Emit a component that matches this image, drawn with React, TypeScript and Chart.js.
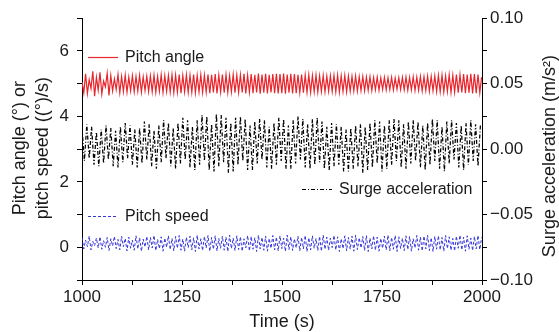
import React, { useEffect, useRef } from 'react';
import { Chart, registerables } from 'chart.js';
Chart.register(...registerables);

// ---- sampling grid (time of each extremum) ----
const T_START = 1000;
const PITCH_DT = 4.5; // s between successive peaks/troughs of pitch signals
const SURGE_DT = 6; // s between successive peaks/troughs of surge acceleration

// ---- axis tick labels ----
const xTickLabels = [1000, 1250, 1500, 1750, 2000];
const leftTickLabels = [0, 2, 4, 6];
const rightTickLabels = [-0.1, -0.05, 0, 0.05, 0.1];

// ---- series (degrees) ----
const pitchAngle = [
  5.05, 4.72, 5.30, 4.70, 5.12, 4.85, 5.38, 4.62, 5.20, 4.80,
  5.35, 4.68, 5.08, 4.90, 5.32, 4.64, 5.25, 4.78, 5.15, 4.82,
  5.28, 4.72, 5.22, 4.76, 5.26, 4.74, 5.20, 4.78, 5.24, 4.75,
  5.22, 4.77, 5.25, 4.74, 5.21, 4.79, 5.23, 4.76, 5.24, 4.75,
  5.26, 4.74, 5.22, 4.77, 5.27, 4.73, 5.24, 4.76, 5.25, 4.74,
  5.27, 4.72, 5.26, 4.74, 5.28, 4.71, 5.25, 4.75, 5.27, 4.73,
  5.26, 4.74, 5.28, 4.72, 5.25, 4.75, 5.27, 4.73, 5.26, 4.74,
  5.28, 4.71, 5.27, 4.73, 5.29, 4.70, 5.26, 4.74, 5.28, 4.72,
  5.27, 4.73, 5.25, 4.75, 5.28, 4.72, 5.26, 4.74, 5.27, 4.73,
  5.30, 4.70, 5.26, 4.74, 5.29, 4.71, 5.27, 4.73, 5.31, 4.69,
  5.28, 4.72, 5.30, 4.70, 5.27, 4.73, 5.29, 4.71, 5.30, 4.70,
  5.29, 4.71, 5.31, 4.69, 5.28, 4.72, 5.30, 4.70, 5.29, 4.71,
  5.27, 4.73, 5.28, 4.72, 5.26, 4.74, 5.27, 4.73, 5.25, 4.75,
  5.26, 4.74, 5.24, 4.76, 5.25, 4.75, 5.23, 4.77, 5.24, 4.76,
  5.25, 4.75, 5.26, 4.74, 5.24, 4.76, 5.25, 4.75, 5.23, 4.77,
  5.22, 4.78, 5.23, 4.77, 5.21, 4.79, 5.22, 4.78, 5.20, 4.80,
  5.21, 4.79, 5.19, 4.81, 5.20, 4.80, 5.18, 4.82, 5.19, 4.81,
  5.18, 4.82, 5.19, 4.81, 5.17, 4.83, 5.18, 4.82, 5.19, 4.81,
  5.20, 4.80, 5.19, 4.81, 5.21, 4.79, 5.20, 4.80, 5.22, 4.78,
  5.21, 4.79, 5.23, 4.77, 5.22, 4.78, 5.24, 4.76, 5.25, 4.75,
  5.26, 4.74, 5.24, 4.76, 5.27, 4.73, 5.26, 4.74, 5.28, 4.72,
  5.27, 4.73, 5.29, 4.71, 5.28, 4.72, 5.30, 4.70, 5.29, 4.71,
  5.28, 4.72, 5.20,
];

// ---- series (degrees / s) ----
const pitchSpeed = [
  0.30, -0.05, 0.22, 0.02, 0.34, -0.08, 0.18, 0.05, 0.28, -0.02,
  0.32, -0.06, 0.20, 0.00, 0.30, -0.10, 0.26, 0.04, 0.33, -0.04,
  0.24, -0.08, 0.34, 0.02, 0.27, -0.11, 0.31, -0.03, 0.22, -0.09,
  0.35, -0.05, 0.29, -0.12, 0.25, 0.01, 0.33, -0.08, 0.30, -0.02,
  0.36, -0.10, 0.24, -0.04, 0.32, -0.12, 0.28, 0.00, 0.35, -0.07,
  0.27, -0.11, 0.33, -0.03, 0.36, -0.09, 0.25, -0.12, 0.31, -0.01,
  0.34, -0.08, 0.29, -0.13, 0.37, -0.05, 0.26, -0.10, 0.33, -0.02,
  0.36, -0.12, 0.30, -0.06, 0.35, -0.11, 0.27, -0.03, 0.34, -0.09,
  0.31, -0.13, 0.37, -0.04, 0.28, -0.10, 0.35, -0.07, 0.32, -0.12,
  0.26, -0.02, 0.36, -0.11, 0.33, -0.06, 0.29, -0.13, 0.37, -0.05,
  0.30, -0.09, 0.34, -0.12, 0.27, -0.03, 0.36, -0.08, 0.31, -0.11,
  0.35, -0.04, 0.28, -0.12, 0.37, -0.07, 0.32, -0.10, 0.26, -0.02,
  0.34, -0.11, 0.30, -0.05, 0.36, -0.13, 0.29, -0.08, 0.35, -0.03,
  0.27, -0.10, 0.33, -0.12, 0.37, -0.06, 0.31, -0.09, 0.28, -0.01,
  0.36, -0.08, 0.32, -0.13, 0.26, -0.04, 0.35, -0.11, 0.30, -0.06,
  0.34, -0.12, 0.37, -0.07, 0.29, -0.02, 0.33, -0.10, 0.36, -0.13,
  0.28, -0.05, 0.35, -0.09, 0.31, -0.12, 0.27, -0.03, 0.34, -0.08,
  0.37, -0.11, 0.30, -0.06, 0.36, -0.13, 0.32, -0.04, 0.28, -0.10,
  0.35, -0.07, 0.33, -0.12, 0.26, -0.02, 0.36, -0.09, 0.31, -0.11,
  0.34, -0.05, 0.37, -0.10, 0.29, -0.13, 0.33, -0.06, 0.35, -0.08,
  0.30, -0.12, 0.36, -0.04, 0.32, -0.09, 0.27, -0.11, 0.34, -0.03,
  0.37, -0.08, 0.31, -0.12, 0.35, -0.06, 0.28, -0.10, 0.33, -0.05,
  0.36, -0.07, 0.30,
];

// ---- series (m/s^2, right axis) ----
const surgeAcc = [
  0.016, -0.009, 0.019, -0.007, 0.017, -0.012, 0.013, -0.013,
  0.015, -0.011, 0.018, -0.008, 0.016, -0.013, 0.014, -0.014,
  0.017, -0.010, 0.020, -0.007, 0.018, -0.012, 0.015, -0.014,
  0.016, -0.011, 0.021, -0.008, 0.019, -0.013, 0.014, -0.015,
  0.018, -0.010, 0.022, -0.007, 0.020, -0.013, 0.016, -0.015,
  0.020, -0.011, 0.024, -0.008, 0.022, -0.014, 0.017, -0.016,
  0.022, -0.012, 0.026, -0.009, 0.025, -0.016, 0.019, -0.017,
  0.027, -0.013, 0.026, -0.010, 0.024, -0.018, 0.020, -0.017,
  0.024, -0.012, 0.025, -0.009, 0.023, -0.016, 0.018, -0.016,
  0.021, -0.011, 0.023, -0.008, 0.022, -0.014, 0.017, -0.015,
  0.020, -0.012, 0.024, -0.009, 0.023, -0.015, 0.018, -0.015,
  0.022, -0.011, 0.025, -0.008, 0.023, -0.014, 0.019, -0.015,
  0.023, -0.012, 0.024, -0.010, 0.021, -0.015, 0.017, -0.016,
  0.020, -0.013, 0.019, -0.012, 0.017, -0.017, 0.015, -0.017,
  0.016, -0.015, 0.018, -0.013, 0.019, -0.018, 0.017, -0.016,
  0.020, -0.014, 0.022, -0.011, 0.021, -0.017, 0.018, -0.015,
  0.022, -0.012, 0.023, -0.009, 0.022, -0.014, 0.019, -0.015,
  0.021, -0.011, 0.022, -0.009, 0.021, -0.014, 0.018, -0.016,
  0.020, -0.012, 0.023, -0.009, 0.022, -0.015, 0.017, -0.017,
  0.021, -0.011, 0.022, -0.008, 0.020, -0.014, 0.018, -0.016,
  0.020, -0.012, 0.022, -0.009, 0.019, -0.013, 0.018,
];

const FONT = "'Liberation Sans', Arial, Helvetica, sans-serif";
const TEXT = '#1a1a1a';
const RED = '#e8252c';
const BLUE = '#3737d8';
const BLACK = '#000000';
const SURGE_DASH = [4, 2, 1, 2];
const SPEED_DASH = [3, 2];

const toPoints = (vals: number[], dt: number) =>
  vals.map((v, i) => ({ x: T_START + i * dt, y: v }));

const fmtRight = (v: number) => {
  const s = Math.abs(v).toFixed(2);
  return v < -1e-9 ? '\u2212' + s : s;
};

const near = (v: number, list: number[]) => list.some((t) => Math.abs(t - v) < 1e-6);

const decorations = {
  id: 'decorations',
  afterDraw(chart: any) {
    const { ctx, chartArea, scales } = chart;
    const xs = scales.x;
    const ys = scales.y;
    ctx.save();
    const legend = (t0: number, yv: number, dash: number[], color: string, lw: number, label: string) => {
      const px = xs.getPixelForValue(t0);
      const py = Math.round(ys.getPixelForValue(yv)) + 0.5;
      ctx.beginPath();
      ctx.setLineDash(dash);
      ctx.strokeStyle = color;
      ctx.lineWidth = lw;
      ctx.moveTo(px, py);
      ctx.lineTo(px + 30, py);
      ctx.stroke();
      ctx.setLineDash([]);
      ctx.fillStyle = TEXT;
      ctx.font = `16px ${FONT}`;
      ctx.textBaseline = 'middle';
      ctx.textAlign = 'left';
      ctx.fillText(label, px + 37, py);
    };
    legend(1015, 5.82, [], RED, 1.2, 'Pitch angle');
    legend(1550, 1.79, SURGE_DASH, BLACK, 1.2, 'Surge acceleration');
    legend(1015, 0.97, SPEED_DASH, BLUE, 1, 'Pitch speed');

    // axis titles
    const cy = (chartArea.top + chartArea.bottom) / 2;
    ctx.fillStyle = TEXT;
    ctx.font = `18px ${FONT}`;
    ctx.textAlign = 'center';
    ctx.textBaseline = 'middle';
    ctx.save();
    ctx.translate(20, cy - 1);
    ctx.rotate(-Math.PI / 2);
    ctx.fillText('Pitch angle (\u00b0) or', 0, 0);
    ctx.restore();
    ctx.save();
    ctx.translate(43, cy - 1);
    ctx.rotate(-Math.PI / 2);
    ctx.fillText('pitch speed ((\u00b0)/s)', 0, 0);
    ctx.restore();
    ctx.save();
    ctx.translate(550, cy + 7);
    ctx.rotate(-Math.PI / 2);
    ctx.fillText('Surge acceleration (m/s\u00b2)', 0, 0);
    ctx.restore();
    ctx.restore();
  },
};

export default function App() {
  const ref = useRef<HTMLCanvasElement | null>(null);
  useEffect(() => {
    if (!ref.current) return;
    const tickFont = { family: FONT, size: 17 };
    const chart = new Chart(ref.current, {
      type: 'line',
      data: {
        datasets: [
          {
            label: 'Pitch angle',
            data: toPoints(pitchAngle, PITCH_DT),
            borderColor: RED,
            borderWidth: 1.2,
            pointRadius: 0,
            tension: 0,
            yAxisID: 'y',
          },
          {
            label: 'Surge acceleration',
            data: toPoints(surgeAcc, SURGE_DT),
            borderColor: BLACK,
            borderWidth: 1.25,
            borderDash: SURGE_DASH,
            pointRadius: 0,
            tension: 0,
            yAxisID: 'y1',
          },
          {
            label: 'Pitch speed',
            data: toPoints(pitchSpeed, PITCH_DT),
            borderColor: BLUE,
            borderWidth: 1,
            borderDash: SPEED_DASH,
            pointRadius: 0,
            tension: 0,
            yAxisID: 'y',
          },
        ],
      },
      options: {
        responsive: false,
        animation: false,
        layout: { padding: { top: 17, left: 0, right: 0, bottom: 0 } },
        plugins: { legend: { display: false }, tooltip: { enabled: false } },
        scales: {
          x: {
            type: 'linear',
            position: 'bottom',
            min: 1000,
            max: 2000,
            ticks: {
              stepSize: 125,
              autoSkip: false,
              maxRotation: 0,
              color: TEXT,
              font: tickFont,
              padding: 2,
              callback: (v: any) => (near(Number(v), xTickLabels) ? String(v) : ''),
            },
            grid: { drawOnChartArea: false, drawTicks: true, tickLength: 5, color: BLACK },
            border: { color: BLACK, width: 1 },
            title: {
              display: true,
              text: 'Time (s)',
              color: TEXT,
              font: { family: FONT, size: 18, lineHeight: 1 },
              padding: { top: 0, bottom: 1 },
            },
            afterFit: (s: any) => {
              s.height = 52;
            },
          },
          y: {
            type: 'linear',
            position: 'left',
            min: -1,
            max: 7,
            ticks: {
              stepSize: 1,
              autoSkip: false,
              color: TEXT,
              font: tickFont,
              padding: 8,
              callback: (v: any) => (near(Number(v), leftTickLabels) ? String(v) : ''),
            },
            grid: { drawOnChartArea: false, drawTicks: true, tickLength: 5, color: BLACK },
            border: { color: BLACK, width: 1 },
            afterFit: (s: any) => {
              s.width = 82;
            },
          },
          y1: {
            type: 'linear',
            position: 'right',
            min: -0.1,
            max: 0.1,
            ticks: {
              stepSize: 0.025,
              autoSkip: false,
              color: TEXT,
              font: tickFont,
              padding: 3,
              callback: (v: any) => (near(Number(v), rightTickLabels) ? fmtRight(Number(v)) : ''),
            },
            grid: { drawOnChartArea: false, drawTicks: true, tickLength: 5, color: BLACK },
            border: { color: BLACK, width: 1 },
            afterFit: (s: any) => {
              s.width = 77;
            },
          },
        },
      },
      plugins: [decorations],
    } as any);
    return () => chart.destroy();
  }, []);
  return (
    <div style={{ position: 'fixed', left: 0, top: 0, width: 559, height: 332, background: '#fff' }}>
      <canvas ref={ref} width={559} height={332} style={{ display: 'block' }} />
    </div>
  );
}
